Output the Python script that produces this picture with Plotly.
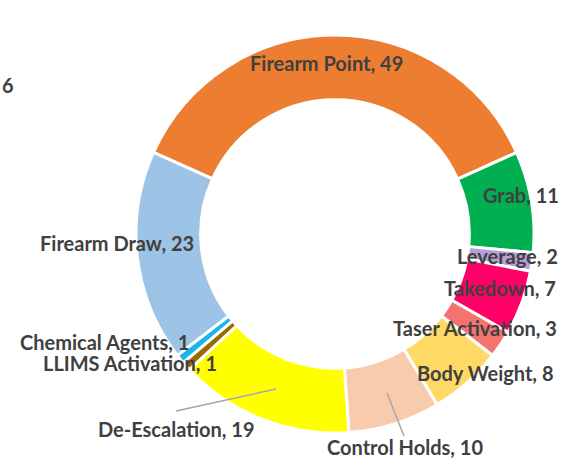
import plotly.graph_objects as go

W, H = 564, 458

categories = ["Firearm Point", "Grab", "Leverage", "Takedown", "Taser Activation",
              "Body Weight", "Control Holds", "De-Escalation", "LLIMS Activation",
              "Chemical Agents", "Firearm Draw"]
values = [49, 11, 2, 7, 3, 8, 10, 19, 1, 1, 23]
colors = ["#ED7D31", "#00B050", "#B4A0D6", "#FF0066", "#F4736F",
          "#FFD966", "#F8CBAD", "#FFFF00", "#9C6B00", "#1CB5EB", "#9DC3E6"]

# label centre positions in pixels (layout only)
label_px = [(326, 63), (521, 195), (507, 256), (500, 288), (475, 328),
            (485, 373), (405, 447), (176, 429), (130, 363), (104, 342), (117, 243)]
# leader lines in pixels (x0, y0, x1, y1)
leaders_px = [(176, 411, 276, 389), (387, 393, 404, 436)]

cx, cy, r = 335, 234, 199

fig = go.Figure(go.Pie(
    labels=categories, values=values, sort=False, direction="clockwise",
    rotation=-65.8, hole=0.675,
    marker=dict(colors=colors, line=dict(color="white", width=3)),
    textinfo="none", hoverinfo="label+value", showlegend=False,
    domain=dict(x=[(cx - r) / W, (cx + r) / W], y=[1 - (cy + r) / H, 1 - (cy - r) / H]),
))

font = dict(family="Lato, 'Open Sans', sans-serif", size=20, color="#404040")
annotations = []
for cat, val, (px, py) in zip(categories, values, label_px):
    annotations.append(dict(
        text=f"<b>{cat}, {val}</b>", x=px / W, y=1 - py / H, xref="paper", yref="paper",
        xanchor="center", yanchor="middle", showarrow=False, font=font, borderpad=0))
annotations.append(dict(text="<b>6</b>", x=0, y=1 - 85 / H, xref="paper", yref="paper",
                        xanchor="left", yanchor="middle", showarrow=False, font=font))

shapes = [dict(type="line", xref="paper", yref="paper",
               x0=x0 / W, y0=1 - y0 / H, x1=x1 / W, y1=1 - y1 / H,
               line=dict(color="#A6A6A6", width=1.5)) for x0, y0, x1, y1 in leaders_px]

fig.update_layout(width=W, height=H, margin=dict(l=0, r=0, t=0, b=0),
                  paper_bgcolor="white", plot_bgcolor="white",
                  annotations=annotations, shapes=shapes)
fig.write_html("out.html", config={"displayModeBar": False},
               post_script="document.body.style.margin='0';document.body.style.overflow='hidden';")
